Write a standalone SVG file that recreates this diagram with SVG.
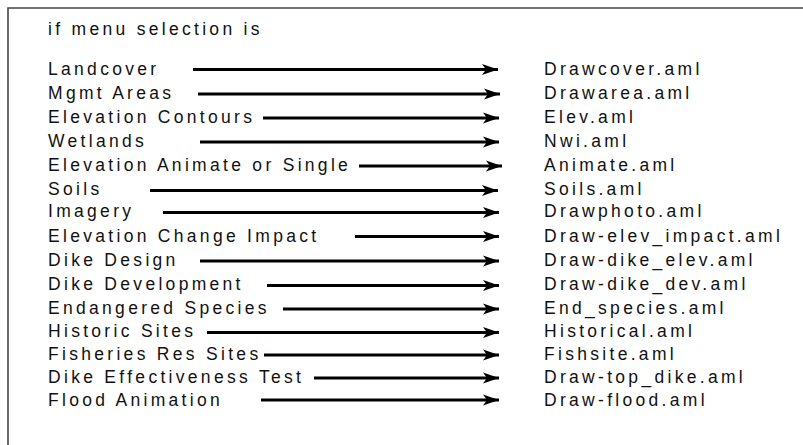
<svg xmlns="http://www.w3.org/2000/svg" width="803" height="445" viewBox="0 0 803 445">
<style>
text{font-family:"Liberation Sans",Arial,sans-serif;font-size:17.5px;letter-spacing:3.3px;fill:#111}
.c{stroke:#000;stroke-width:3.2;fill:none}
.frame{stroke:#444;stroke-width:1.6;fill:none}
</style>
<defs>
<marker id="ah" markerUnits="userSpaceOnUse" markerWidth="18" markerHeight="12" refX="16" refY="6" orient="auto">
<path d="M0,0.5 L16,6 L0,11.5 L4,6 Z" fill="#000"/>
</marker>
</defs>
<rect width="803" height="445" fill="#fff"/>
<path class="frame" d="M8,445 L8,8 L803,8"/>
<g id="title"><text x="48" y="35" letter-spacing="3.15">if menu selection is</text></g>
<g id="menu">
<g id="m1"><text x="48" y="75" letter-spacing="3.5">Landcover</text></g>
<g id="m2"><text x="48" y="98.5" letter-spacing="3.5">Mgmt Areas</text></g>
<g id="m3"><text x="48" y="122.5" letter-spacing="3.1">Elevation Contours</text></g>
<g id="m4"><text x="48" y="146.5" letter-spacing="3.6">Wetlands</text></g>
<g id="m5"><text x="48" y="171" letter-spacing="3.0">Elevation Animate or Single</text></g>
<g id="m6"><text x="48" y="195" letter-spacing="2.8">Soils</text></g>
<g id="m7"><text x="48" y="217" letter-spacing="3.15">Imagery</text></g>
<g id="m8"><text x="48" y="241.5" letter-spacing="3.25">Elevation Change Impact</text></g>
<g id="m9"><text x="48" y="266" letter-spacing="3.1">Dike Design</text></g>
<g id="m10"><text x="48" y="290" letter-spacing="3.45">Dike Development</text></g>
<g id="m11"><text x="48" y="313.5" letter-spacing="3.4">Endangered Species</text></g>
<g id="m12"><text x="48" y="337">Historic Sites</text></g>
<g id="m13"><text x="48" y="359.5" letter-spacing="2.9">Fisheries Res Sites</text></g>
<g id="m14"><text x="48" y="383" letter-spacing="3.25">Dike Effectiveness Test</text></g>
<g id="m15"><text x="48" y="405.5" letter-spacing="3.1">Flood Animation</text></g>
</g>
<g id="files">
<g id="f1"><text x="544" y="75" letter-spacing="3.5">Drawcover.aml</text></g>
<g id="f2"><text x="544" y="98.5" letter-spacing="3.6">Drawarea.aml</text></g>
<g id="f3"><text x="544" y="122.5" letter-spacing="3.4">Elev.aml</text></g>
<g id="f4"><text x="544" y="146.5" letter-spacing="3.6">Nwi.aml</text></g>
<g id="f5"><text x="544" y="171" letter-spacing="3.55">Animate.aml</text></g>
<g id="f6"><text x="544" y="195" letter-spacing="3.4">Soils.aml</text></g>
<g id="f7"><text x="544" y="217" letter-spacing="3.35">Drawphoto.aml</text></g>
<g id="f8"><text x="544" y="241.5" letter-spacing="2.8">Draw-elev_impact.aml</text></g>
<g id="f9"><text x="544" y="266" letter-spacing="3.2">Draw-dike_elev.aml</text></g>
<g id="f10"><text x="544" y="290" letter-spacing="3.6">Draw-dike_dev.aml</text></g>
<g id="f11"><text x="544" y="313.5">End_species.aml</text></g>
<g id="f12"><text x="544" y="337">Historical.aml</text></g>
<g id="f13"><text x="544" y="359.5" letter-spacing="3.4">Fishsite.aml</text></g>
<g id="f14"><text x="544" y="383" letter-spacing="3.6">Draw-top_dike.aml</text></g>
<g id="f15"><text x="544" y="405.5" letter-spacing="3.0">Draw-flood.aml</text></g>
</g>
<g id="connectors" class="c" marker-end="url(#ah)">
<line x1="193" y1="69.5" x2="498" y2="69.5"/>
<line x1="198" y1="94" x2="500" y2="94"/>
<line x1="263" y1="118" x2="499" y2="118"/>
<line x1="200" y1="142" x2="499" y2="142"/>
<line x1="359" y1="166" x2="502" y2="166"/>
<line x1="150" y1="190.5" x2="498" y2="190.5"/>
<line x1="163" y1="212.5" x2="499" y2="212.5"/>
<line x1="355" y1="236.5" x2="499" y2="236.5"/>
<line x1="200" y1="261" x2="499" y2="261"/>
<line x1="267" y1="285.5" x2="499" y2="285.5"/>
<line x1="283" y1="309" x2="499" y2="309"/>
<line x1="207" y1="332.5" x2="499" y2="332.5"/>
<line x1="264" y1="355" x2="499" y2="355"/>
<line x1="314" y1="378" x2="499" y2="378"/>
<line x1="261" y1="400" x2="499" y2="400"/>
</g>
</svg>
